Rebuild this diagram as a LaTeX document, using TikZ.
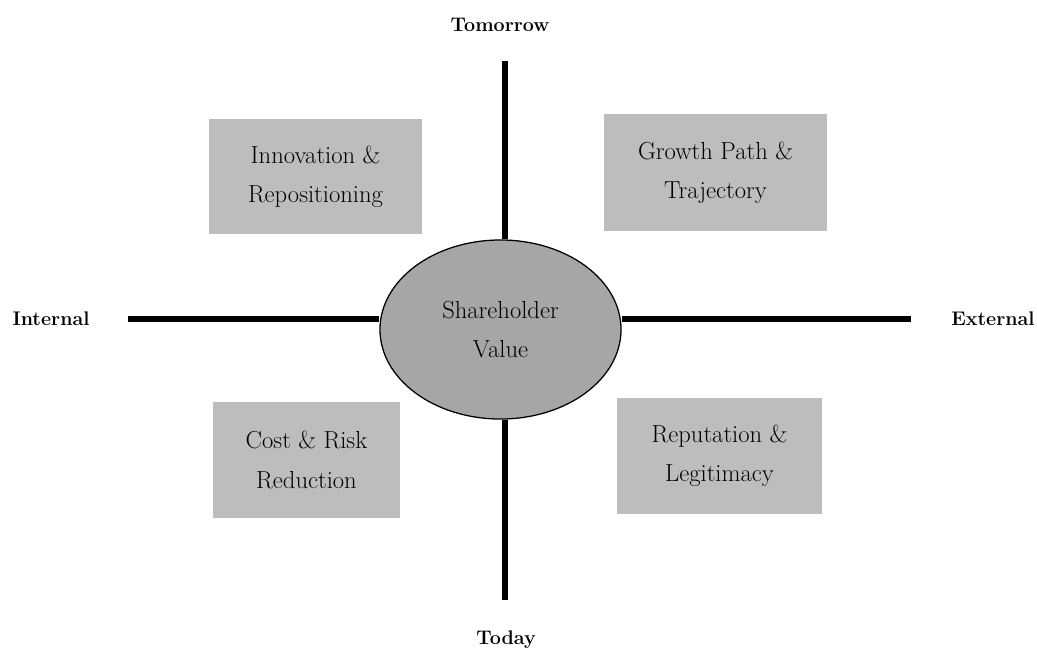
\documentclass[tikz,border=0pt]{standalone}
\usepackage{tikz}
\usetikzlibrary{shapes.geometric,backgrounds}
\definecolor{boxgray}{RGB}{189,189,189}
\definecolor{ovalgray}{RGB}{166,166,166}

\begin{document}
\begin{tikzpicture}[x=0.025cm,y=-0.025cm,
    quad/.style={rectangle,fill=boxgray,align=center,inner sep=0pt,font=\fontsize{17.5}{28}\selectfont},
    axislabel/.style={font=\fontsize{14}{17}\selectfont\bfseries},
    axis/.style={line width=3.6pt}]
    \useasboundingbox (0,0) rectangle (1037,653);

    % Centre
    \node[ellipse,draw,line width=0.9pt,fill=ovalgray,minimum width=6.025cm,minimum height=4.475cm,
          inner sep=0pt,align=center,font=\fontsize{17.5}{28}\selectfont] at (500.5,329.5) (value) {Shareholder\\Value};

    % Quadrants
    \node[quad,minimum width=5.325cm,minimum height=2.875cm] at (315.5,176.5) (innovation) {Innovation \&\\Repositioning};
    \node[quad,minimum width=5.575cm,minimum height=2.925cm] at (715.5,172.5) (growth) {Growth Path \&\\Trajectory};
    \node[quad,minimum width=4.675cm,minimum height=2.9cm] at (306.5,460) (cost) {Cost \& Risk\\Reduction};
    \node[quad,minimum width=5.125cm,minimum height=2.9cm] at (719.5,456) (reputation) {Reputation \&\\Legitimacy};

    % Axis ends
    \coordinate (north) at (505,61);
    \coordinate (south) at (505,600);
    \coordinate (west) at (128,319);
    \coordinate (east) at (911,319);

    % Axes behind the oval
    \begin{scope}[on background layer]
        \draw[axis] (north) -- (north |- value.north);
        \draw[axis] (south) -- (south |- value.south);
        \draw[axis] (west) -- (west -| value.west);
        \draw[axis] (east) -- (east -| value.east);
    \end{scope}

    % Labels
    \node[axislabel] at (500,25) (tomorrow) {Tomorrow};
    \node[axislabel] at (506,640) (today) {Today};
    \node[axislabel] at (51,319) (internal) {Internal};
    \node[axislabel] at (993,319) (external) {External};
\end{tikzpicture}
\end{document}
